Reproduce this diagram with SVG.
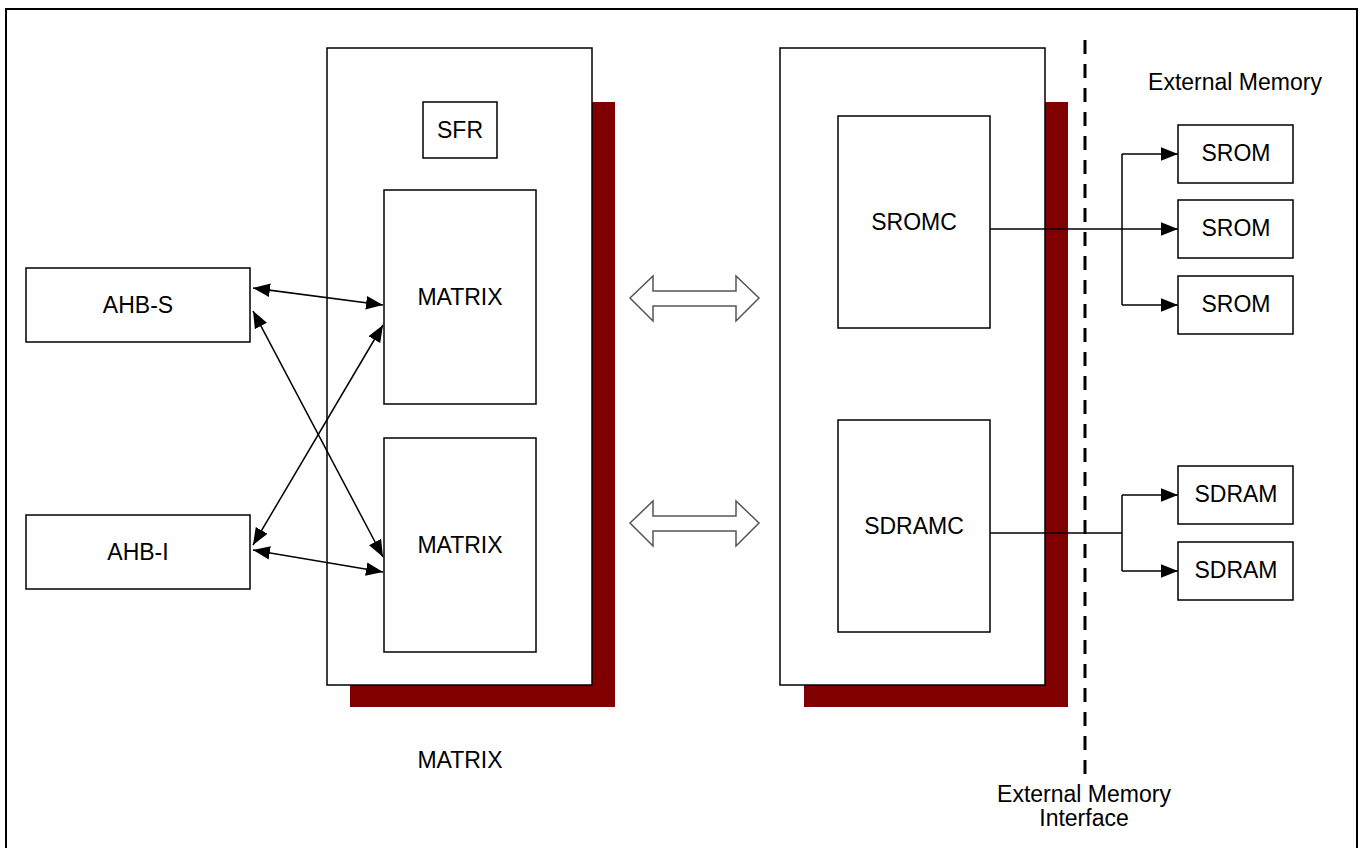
<svg xmlns="http://www.w3.org/2000/svg" width="1364" height="848" viewBox="0 0 1364 848">
<style>
.box{fill:#fff;stroke:#000;stroke-width:1.5}
.sh{fill:#800000}
.t{font-family:"Liberation Sans",Arial,sans-serif;font-size:23px;fill:#000;text-anchor:middle;dominant-baseline:central}
.ln{stroke:#000;stroke-width:1.5;fill:none}
.hol{fill:#fff;stroke:#555;stroke-width:1.5}
</style>
<defs>
<marker id="ah" viewBox="0 0 10 10" refX="10" refY="5" markerWidth="17" markerHeight="17" markerUnits="userSpaceOnUse" orient="auto-start-reverse">
<path d="M0,1 L10,5 L0,9 z" fill="#000"/>
</marker>
</defs>
<rect x="0" y="0" width="1364" height="848" fill="#fff"/>
<rect x="6" y="9" width="1351" height="850" fill="none" stroke="#000" stroke-width="2"/>
<g id="matrix-block">
<rect class="sh" x="350" y="102" width="265" height="605"/>
<rect class="box" x="327" y="48" width="265" height="637"/>
</g>
<g id="emi-block">
<rect class="sh" x="804" y="102" width="264" height="605"/>
<rect class="box" x="780" y="48" width="265" height="637"/>
</g>
<g id="sfr"><rect class="box" x="423" y="102" width="74" height="56"/><text class="t" x="460" y="130">SFR</text></g>
<g id="matrix1"><rect class="box" x="384" y="190" width="152" height="214"/><text class="t" x="460" y="297">MATRIX</text></g>
<g id="matrix2"><rect class="box" x="384" y="438" width="152" height="214"/><text class="t" x="460" y="545">MATRIX</text></g>
<g id="ahbs"><rect class="box" x="26" y="268" width="224" height="74"/><text class="t" x="138" y="305">AHB-S</text></g>
<g id="ahbi"><rect class="box" x="26" y="515" width="224" height="74"/><text class="t" x="138" y="552">AHB-I</text></g>
<g id="sromc"><rect class="box" x="838" y="116" width="152" height="212"/><text class="t" x="914" y="222">SROMC</text></g>
<g id="sdramc"><rect class="box" x="838" y="420" width="152" height="212"/><text class="t" x="914" y="526">SDRAMC</text></g>
<g id="srom1"><rect class="box" x="1178" y="125" width="115" height="58"/><text class="t" x="1236" y="153">SROM</text></g>
<g id="srom2"><rect class="box" x="1178" y="200" width="115" height="58"/><text class="t" x="1236" y="228">SROM</text></g>
<g id="srom3"><rect class="box" x="1178" y="276" width="115" height="58"/><text class="t" x="1236" y="304">SROM</text></g>
<g id="sdram1"><rect class="box" x="1178" y="466" width="115" height="58"/><text class="t" x="1236" y="494">SDRAM</text></g>
<g id="sdram2"><rect class="box" x="1178" y="542" width="115" height="58"/><text class="t" x="1236" y="570">SDRAM</text></g>
<g id="labels">
<text class="t" x="1235" y="82">External Memory</text>
<text class="t" x="460" y="760">MATRIX</text>
<text class="t" x="1084" y="794">External Memory</text>
<text class="t" x="1084" y="818">Interface</text>
</g>
<g id="connectors">
<line x1="1085" y1="40" x2="1085" y2="775" stroke="#000" stroke-width="3" stroke-dasharray="14,10"/>
<line class="ln" x1="253" y1="288" x2="383" y2="305" marker-start="url(#ah)" marker-end="url(#ah)"/>
<line class="ln" x1="253" y1="311" x2="383" y2="557" marker-start="url(#ah)" marker-end="url(#ah)"/>
<line class="ln" x1="253" y1="545" x2="383" y2="325" marker-start="url(#ah)" marker-end="url(#ah)"/>
<line class="ln" x1="253" y1="550" x2="383" y2="572" marker-start="url(#ah)" marker-end="url(#ah)"/>
<path class="hol" d="M630,298 L653,276 L653,291 L736,291 L736,276 L759,298 L736,321 L736,306 L653,306 L653,321 Z"/>
<path class="hol" d="M630,523 L653,501 L653,516 L736,516 L736,501 L759,523 L736,546 L736,531 L653,531 L653,546 Z"/>
<line class="ln" x1="990" y1="229" x2="1178" y2="229" marker-end="url(#ah)"/>
<path class="ln" d="M1122,154 L1122,305"/>
<line class="ln" x1="1122" y1="154" x2="1178" y2="154" marker-end="url(#ah)"/>
<line class="ln" x1="1122" y1="305" x2="1178" y2="305" marker-end="url(#ah)"/>
<line class="ln" x1="990" y1="533" x2="1122" y2="533"/>
<path class="ln" d="M1122,495 L1122,571"/>
<line class="ln" x1="1122" y1="495" x2="1178" y2="495" marker-end="url(#ah)"/>
<line class="ln" x1="1122" y1="571" x2="1178" y2="571" marker-end="url(#ah)"/>
</g>
</svg>
